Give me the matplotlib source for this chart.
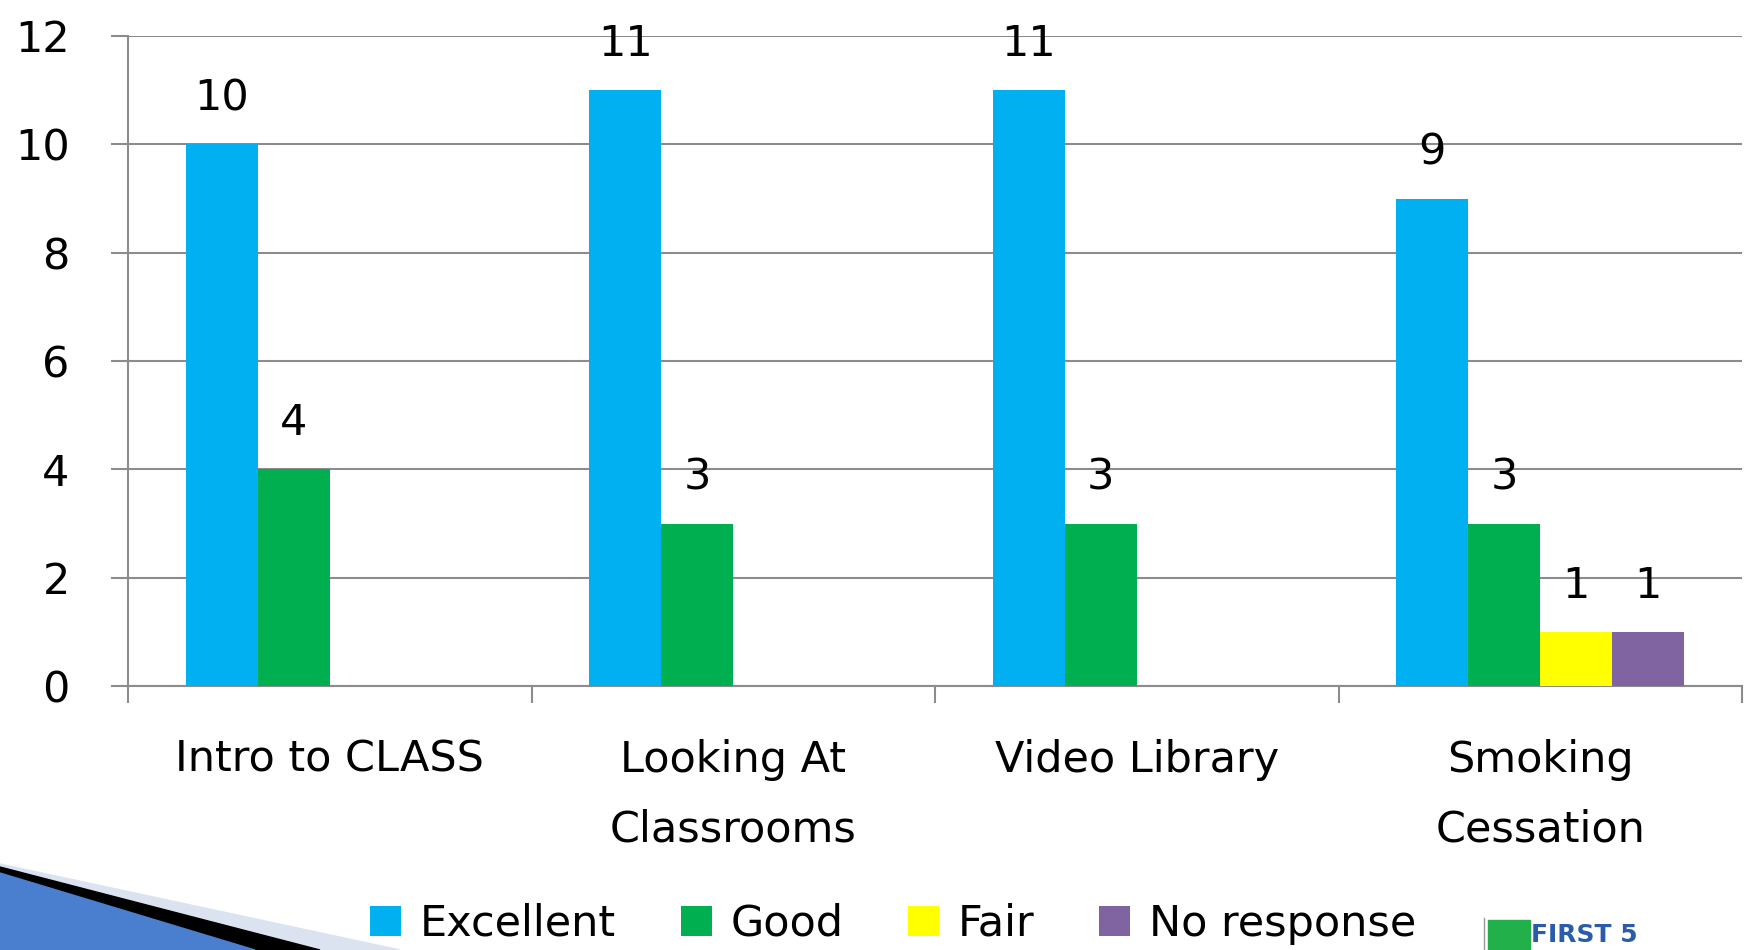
import matplotlib.pyplot as plt
import numpy as np
from matplotlib.patches import Polygon, Rectangle

categories = ["Intro to CLASS", "Looking At\nClassrooms", "Video Library", "Smoking\nCessation"]
series = ["Excellent", "Good", "Fair", "No response"]
excellent = [10, 11, 11, 9]
good = [4, 3, 3, 3]
fair = [None, None, None, 1]
no_response = [None, None, None, 1]
colors = ["#00B0F0", "#00B050", "#FFFF00", "#8064A2"]
y_ticks = [0, 2, 4, 6, 8, 10, 12]

W, H, DPI = 1748, 950, 100
FS = 31
GRID = "#8c8c8c"

plt.rcParams["font.family"] = ["DejaVu Sans"]

fig = plt.figure(figsize=(W / DPI, H / DPI), dpi=DPI)
ax = fig.add_axes([128 / W, 1 - 686 / H, (1742 - 128) / W, (686 - 36) / H])

x = np.arange(len(categories))
bar_w = 0.1785
values = [excellent, good, fair, no_response]
for k, (name, vals, col) in enumerate(zip(series, values, colors)):
    xs = [xi + (k - 1.5) * bar_w for xi, v in zip(x, vals) if v is not None]
    vs = [v for v in vals if v is not None]
    ax.bar(xs, vs, width=bar_w, color=col, label=name, zorder=3, linewidth=0)
    for xi, v in zip(xs, vs):
        ax.annotate(str(v), (xi, v), xytext=(0, 33), textcoords="offset points",
                    ha="center", va="center", fontsize=FS, zorder=4)

ax.set_xlim(-0.5, len(categories) - 0.5)
ax.set_ylim(0, 12)
ax.set_yticks(y_ticks)
ax.set_yticklabels([str(t) for t in y_ticks], fontsize=FS, va="center_baseline")
ax.set_xticks(x)
ax.set_xticklabels(categories, fontsize=FS, linespacing=1.85)
ax.set_xticks(np.arange(len(categories) + 1) - 0.5, minor=True)
ax.tick_params(axis="x", which="major", length=0, pad=38)
ax.tick_params(axis="x", which="minor", length=12, width=1.5, color=GRID, direction="out")
ax.tick_params(axis="y", length=12, width=1.5, color=GRID, pad=30)
ax.grid(axis="y", color=GRID, linewidth=1.5, zorder=0)
for side in ["top", "right"]:
    ax.spines[side].set_visible(False)
for side in ["left", "bottom"]:
    ax.spines[side].set_color(GRID)
    ax.spines[side].set_linewidth(1.5)

fig.legend(loc="center", bbox_to_anchor=(0.511, 1 - 924 / H), ncol=4, frameon=False,
           fontsize=FS, handlelength=0.72, handleheight=0.72, handletextpad=0.44,
           columnspacing=1.5, borderaxespad=0)

# template decoration, bottom left
def px(pts):
    return [(a / W, 1 - b / H) for a, b in pts]

fig.patches.append(Polygon(px([(0, 864), (400, 950), (0, 950)]), closed=True,
                           transform=fig.transFigure, color="#dbe3f0", zorder=0))
fig.patches.append(Polygon(px([(0, 867), (320, 950), (0, 950)]), closed=True,
                           transform=fig.transFigure, color="#000000", zorder=1))
fig.patches.append(Polygon(px([(0, 873), (255, 950), (0, 950)]), closed=True,
                           transform=fig.transFigure, color="#4a7fcf", zorder=2))

# logo, bottom right
fig.patches.append(Rectangle((1488 / W, 0), 42 / W, 30 / H, transform=fig.transFigure,
                             color="#22b04a", zorder=2))
fig.lines.append(plt.Line2D([1484 / W, 1484 / W], [0, 32 / H], transform=fig.transFigure,
                            color="#999999", linewidth=1))
fig.text(1531 / W, 3 / H, "FIRST 5", fontsize=18, fontweight="bold", color="#2a5caa",
         ha="left", va="bottom")

fig.savefig("out.png", dpi=DPI)
